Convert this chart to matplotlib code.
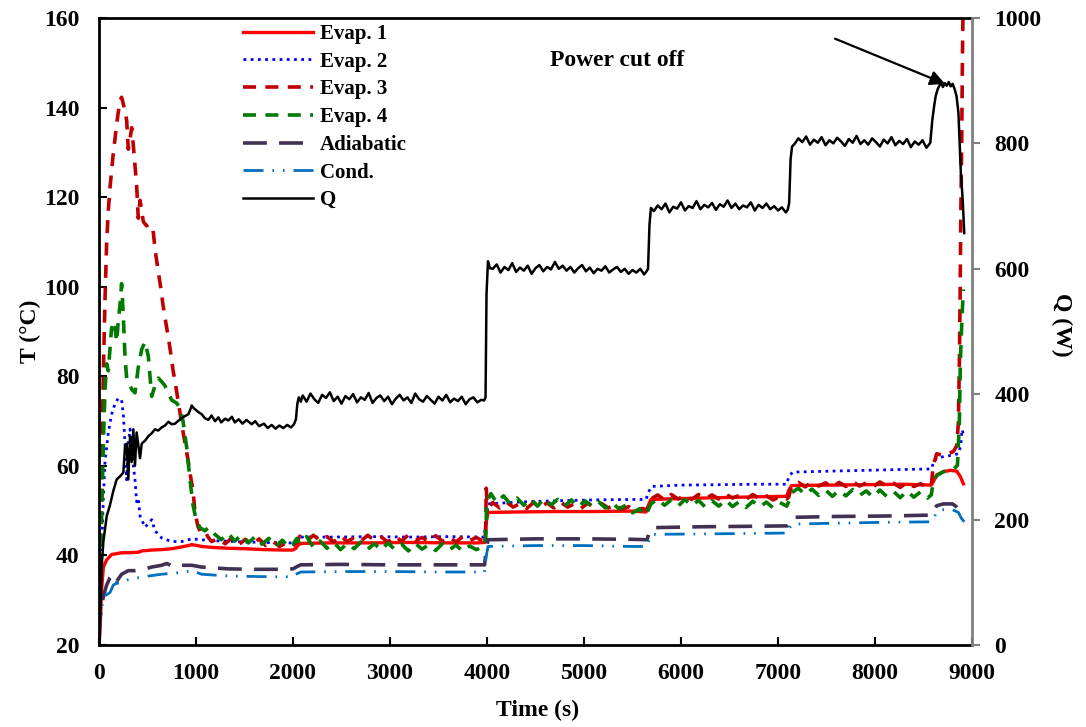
import matplotlib
matplotlib.use("Agg")
import matplotlib.pyplot as plt

plt.rcParams['font.family'] = ['Liberation Serif', 'DejaVu Serif']
plt.rcParams['font.weight'] = 'bold'

# ---------------- data ----------------
t_e1 = [0, 10, 27, 45, 79, 130, 233, 302, 405, 440, 543, 646, 750, 852, 921, 956, 990, 1060, 1162, 1333,
        1500, 1700, 1900, 2000, 2030, 2060, 2100, 2400, 2800, 3200, 3600, 3900, 3975, 3990, 4010, 4300,
        4700, 5100, 5500, 5640, 5660, 5690, 6000, 6400, 6800, 7090, 7110, 7140, 7500, 7900, 8300, 8580,
        8600, 8636, 8705, 8780, 8843, 8880, 8911]
T_e1 = [20, 22.8, 32.5, 37.4, 39.0, 40.2, 40.6, 40.6, 40.7, 41.0, 41.2, 41.3, 41.5, 41.9, 42.2, 42.4, 42.3,
        42.0, 41.8, 41.6, 41.5, 41.3, 41.2, 41.2, 41.6, 42.5, 42.7, 42.8, 42.8, 42.9, 42.8, 42.8, 42.9, 47.0,
        49.6, 49.7, 49.8, 49.8, 49.9, 49.7, 51.0, 52.5, 52.7, 52.9, 53.1, 53.2, 54.5, 55.6, 55.7, 55.8, 55.9,
        55.7, 56.4, 58.0, 58.7, 59.0, 58.8, 57.6, 56.0]

t_e2 = [0, 10, 27, 45, 62, 96, 130, 165, 199, 233, 251, 268, 285, 302, 320, 337, 354, 371, 388, 405, 423,
        440, 474, 509, 543, 577, 646, 749, 852, 956, 1059, 1162, 1300, 1500, 1700, 1900, 2000, 2030, 2070,
        2400, 2800, 3200, 3600, 3970, 3990, 4010, 4300, 4700, 5100, 5500, 5640, 5660, 5700, 6000, 6400,
        6800, 7090, 7110, 7150, 7500, 7900, 8300, 8580, 8608, 8636, 8750, 8860, 8884, 8897, 8911]
T_e2 = [20, 28.5, 40.7, 52.8, 61.0, 67.4, 71.5, 73.9, 75.1, 74.7, 71.5, 65.0, 56.9, 65.0, 68.2, 65.0, 60.1,
        56.9, 52.0, 52.8, 48.8, 48.0, 46.3, 47.1, 48.0, 45.5, 43.9, 43.1, 43.1, 43.7, 43.5, 43.3, 43.2, 43.0,
        42.9, 42.8, 42.8, 43.4, 44.1, 44.1, 44.2, 44.1, 44.2, 44.1, 47.5, 51.5, 51.9, 52.2, 52.4, 52.5, 52.5,
        54.0, 55.4, 55.7, 55.8, 55.9, 55.9, 57.5, 58.6, 58.8, 59.0, 59.2, 59.3, 61.0, 61.8, 62.2, 62.7, 64.5,
        68.1, 67.2]

t_e3 = [0, 10, 27, 45, 62, 79, 96, 113, 130, 148, 165, 182, 199, 216, 233, 251, 268, 285, 302, 320, 337,
        354, 371, 388, 405, 423, 440, 457, 491, 520, 557, 580, 608, 635, 660, 685, 711, 737, 763, 790, 814,
        840, 866, 892, 918, 945, 969, 990, 1020, 1050, 1093,
        1127, 1162, 1230, 1300, 1370, 1440, 1510, 1580, 1650, 1720, 1790, 1860, 1930, 2000, 2040, 2070,
        2140, 2210, 2280, 2350, 2420, 2490, 2560, 2630, 2700, 2770, 2840, 2910, 2980, 3050, 3120, 3190,
        3260, 3330, 3400, 3470, 3540, 3610, 3680, 3750, 3820, 3890, 3960, 3985, 3992, 4000, 4020, 4060,
        4130, 4200, 4270, 4340, 4410, 4480, 4550, 4620, 4690, 4760, 4830, 4900, 4970, 5040, 5110, 5180,
        5250, 5320, 5390, 5460, 5530, 5600, 5650, 5690, 5760, 5830, 5900, 5970, 6040, 6110, 6180, 6250,
        6320, 6390, 6460, 6530, 6600, 6670, 6740, 6810, 6880, 6950, 7020, 7090, 7110, 7140, 7210, 7280,
        7350, 7420, 7490, 7560, 7630, 7700, 7770, 7840, 7910, 7980, 8050, 8120, 8190, 8260, 8330, 8400,
        8470, 8540, 8580, 8600, 8636, 8705, 8808, 8843, 8860, 8870, 8877, 8884, 8894, 8901, 8911]
T_e3 = [22, 35, 57, 81, 97, 110, 117, 122, 126, 130, 133, 136.4, 139, 141.6, 142.3, 140.8, 139, 137.2, 130.7,
        133, 135.5, 131.5, 127, 122.6, 115.3, 119.3, 117, 114.5, 113.6, 114, 112.7, 108, 103.8, 100, 95.9,
        92.5, 89.2, 85.5, 81.4, 78, 74.7, 71, 67.6, 64.5, 61.3, 57.5, 54.6, 49.5, 46.5, 45.0, 45.3,
        44.0, 43.1, 43.8, 42.6, 43.9, 42.4, 43.6, 42.3, 43.7, 42.2, 43.2, 42.0, 42.8,
        42.1, 43.0, 44.3, 43.2, 44.5, 43.3, 44.2, 43.0, 44.4, 43.1, 44.0, 43.2, 44.5, 43.4, 44.1, 43.0, 44.3,
        43.2, 44.6, 43.3, 44.0, 43.1, 44.4, 43.2, 44.1, 43.0, 44.2, 43.3, 44.0, 43.2, 43.5, 55.0, 52.0, 50.8,
        51.8, 50.6, 51.9, 50.8, 51.6, 50.5, 51.8, 50.9, 51.7, 50.6, 51.9, 50.8, 51.5, 50.5, 51.7, 50.7, 51.6,
        50.6, 51.4, 50.3, 50.9, 49.8, 50.5, 50.2, 52.6, 53.5, 52.4, 53.6, 52.6, 53.4, 52.5, 53.6, 52.7, 53.5,
        52.6, 53.7, 52.8, 53.4, 52.5, 53.6, 52.7, 53.3, 52.4, 53.2, 52.6, 53.0, 55.5, 56.3, 55.3, 56.4, 55.5,
        56.2, 55.2, 56.3, 55.4, 56.5, 55.5, 56.2, 55.3, 56.4, 55.5, 56.1, 55.2, 56.3, 55.4, 56.0, 55.2, 55.6,
        60.0, 62.7, 62.3, 63.2, 64.5, 69.8, 83.3, 96.7, 114.7, 132.6, 150.5, 168]

t_e4 = [0, 10, 27, 45, 62, 79, 96, 113, 130, 148, 165, 182, 199, 216, 233, 251, 268, 285, 302, 337, 371,
        405, 440, 474, 509, 543, 577, 612, 646, 680, 715, 749, 801, 835, 866, 907, 938, 969, 1000, 1041, 1093,
        1130, 1196, 1260, 1330, 1400, 1470, 1540, 1610, 1680, 1750, 1820, 1890, 1960, 2000, 2040, 2070,
        2140, 2210, 2280, 2350, 2420, 2490, 2560, 2630, 2700, 2770, 2840, 2910, 2980, 3050, 3120, 3190,
        3260, 3330, 3400, 3470, 3540, 3610, 3680, 3750, 3820, 3890, 3960, 3985, 3995, 4010, 4040, 4100,
        4170, 4240, 4310, 4380, 4450, 4520, 4590, 4660, 4730, 4800, 4870, 4940, 5010, 5080, 5150, 5220,
        5290, 5360, 5430, 5500, 5570, 5620, 5650, 5690, 5760, 5830, 5900, 5970, 6040, 6110, 6180, 6250,
        6320, 6390, 6460, 6530, 6600, 6670, 6740, 6810, 6880, 6950, 7020, 7090, 7110, 7140, 7210, 7280,
        7350, 7420, 7490, 7560, 7630, 7700, 7770, 7840, 7910, 7980, 8050, 8120, 8190, 8260, 8330, 8400,
        8470, 8540, 8580, 8600, 8636, 8705, 8808, 8850, 8870, 8880, 8895, 8911]
T_e4 = [22, 32.5, 48.8, 65, 77.1, 82.8, 81.2, 86, 90.9, 89.3, 90.9, 87.7, 92.5, 95.8, 100.7, 93.4, 84.4, 79.6,
        78.8, 77.1, 76.3, 82, 86, 87.7, 84.4, 75.5, 77.9, 79.6, 78.8, 77.9, 76.3, 74.7, 74.0, 73.0, 70.0, 63.6,
        56.9, 51.3, 48.0, 46.2, 45.5, 46.3, 44.7, 43.5, 45.0, 43.2, 44.6, 42.8, 44.2, 42.5, 43.8, 42.0, 43.4,
        41.8, 42.5, 43.8, 42.6, 44.2, 41.8, 43.2, 41.6, 42.9, 41.3, 42.7, 41.5, 43.0, 41.4, 42.6, 41.2, 42.8,
        41.3, 42.5, 41.0, 42.7, 41.4, 42.4, 41.1, 42.6, 41.2, 42.3, 40.9, 42.1, 41.3, 42.0, 42.3, 50.5, 52.5,
        53.8, 51.8, 53.3, 51.5, 52.8, 51.2, 52.6, 51.0, 52.7, 51.3, 52.5, 51.0, 52.4, 50.8, 52.2, 50.9, 52.0,
        50.6, 51.8, 50.4, 51.2, 49.5, 50.4, 48.9, 49.6, 51.5, 52.6, 51.2, 52.4, 51.0, 52.5, 51.1, 52.3, 50.8,
        52.2, 51.0, 52.4, 50.9, 52.0, 50.7, 52.1, 50.8, 51.9, 50.6, 51.8, 51.0, 52.0, 54.0, 55.0, 53.6, 54.8,
        53.4, 54.6, 53.2, 54.5, 53.3, 54.7, 53.4, 54.4, 53.0, 54.6, 53.2, 54.3, 52.9, 54.4, 53.0, 54.2, 52.8,
        53.5, 56.4, 57.8, 58.7, 59.2, 60.1, 69.9, 83.3, 92.2, 99.4]

t_ad = [0, 10, 45, 79, 113, 148, 182, 233, 302, 371, 440, 543, 646, 697, 784, 852, 956, 1059, 1333, 1600,
        1900, 2000, 2040, 2080, 2500, 3000, 3500, 3975, 3990, 4010, 4500, 5000, 5500, 5650, 5670, 5700,
        6200, 6700, 7100, 7120, 7150, 7600, 8100, 8580, 8608, 8636, 8705, 8800, 8843, 8911]
T_ad = [22, 26, 30.9, 33.4, 35, 35.8, 34.2, 35.8, 36.6, 36.6, 36.8, 37.4, 37.8, 38.2, 37.4, 37.8, 37.8, 37.4,
        37.0, 36.9, 36.9, 37.0, 37.5, 37.9, 38.0, 37.9, 37.9, 37.9, 41.0, 43.5, 43.7, 43.7, 43.6, 43.5, 45.0,
        46.2, 46.4, 46.5, 46.6, 47.5, 48.5, 48.7, 48.8, 49.0, 50.2, 51.1, 51.5, 51.5, 50.8, 49.2]

t_cd = [0, 10, 27, 62, 113, 148, 182, 233, 302, 405, 509, 646, 852, 956, 1059, 1333, 1600, 1900, 2000, 2040,
        2080, 2500, 3000, 3500, 3975, 3990, 4010, 4500, 5000, 5500, 5650, 5680, 5700, 6200, 6700, 7100, 7120,
        7150, 7600, 8100, 8580, 8608, 8636, 8705, 8800, 8860, 8890, 8920]
T_cd = [20, 25, 28.5, 31, 31.7, 33.4, 33.8, 33.8, 34.6, 35.0, 35.4, 35.8, 36.2, 36.6, 35.8, 35.4, 35.3, 35.2,
        35.3, 35.9, 36.3, 36.4, 36.4, 36.3, 36.3, 39.5, 42.0, 42.2, 42.2, 42.0, 42.0, 44.0, 44.7, 44.8, 44.9,
        45.0, 46.2, 47.0, 47.2, 47.4, 47.5, 48.4, 49.7, 50.2, 50.2, 49.6, 48.3, 47.5]

t_q = [0, 15, 30, 45, 80, 113, 148, 182, 216, 251, 268, 285, 302, 320, 337, 354, 371, 388, 423, 440,
       475, 509, 545, 577, 610, 646, 680, 715, 750, 784, 820, 852, 885, 921, 940, 956, 975, 990, 1020, 1059,
       1090, 1127, 1160, 1196, 1230, 1260, 1300, 1333, 1370, 1400, 1440, 1480, 1520, 1574, 1610, 1650, 1700,
       1740, 1780, 1820, 1860, 1900, 1940, 1980, 2010, 2030, 2045, 2060, 2080,
       2100, 2140, 2180, 2220, 2260, 2300, 2340, 2380, 2420, 2460, 2500, 2540, 2580, 2620, 2660, 2700, 2740,
       2780, 2820, 2860, 2900, 2940, 2980, 3020, 3060, 3100, 3140, 3180, 3220, 3260, 3300, 3340, 3380, 3420,
       3460, 3500, 3540, 3580, 3620, 3660, 3700, 3740, 3780, 3820, 3860, 3900, 3940,
       3970, 3985, 3995, 4010, 4030,
       4060, 4100, 4140, 4180, 4220, 4260, 4300, 4340, 4380, 4420, 4460, 4500, 4540, 4580, 4620, 4660, 4700,
       4740, 4780, 4820, 4860, 4900, 4940, 4980, 5020, 5060, 5100, 5140, 5180, 5220, 5260, 5300, 5340, 5380,
       5420, 5460, 5500, 5540, 5580, 5620,
       5645, 5660, 5675, 5690,
       5720, 5760, 5800, 5840, 5880, 5920, 5960, 6000, 6040, 6080, 6120, 6160, 6200, 6240, 6280, 6320, 6360,
       6400, 6440, 6480, 6520, 6560, 6600, 6640, 6680, 6720, 6760, 6800, 6840, 6880, 6920, 6960, 7000, 7040,
       7080,
       7100, 7115, 7130, 7145,
       7170, 7210, 7250, 7290, 7330, 7370, 7410, 7450, 7490, 7530, 7570, 7610, 7650, 7690, 7730, 7770, 7810,
       7850, 7890, 7930, 7970, 8010, 8050, 8090, 8130, 8170, 8210, 8250, 8290, 8330, 8370, 8410, 8450, 8490,
       8530, 8570,
       8590, 8610, 8625, 8645, 8660, 8680, 8700, 8720, 8740, 8760, 8780, 8800, 8820, 8840, 8860, 8875, 8885,
       8905, 8920]
Q_w = [0, 60, 130, 165, 206, 223, 246, 264, 269, 275, 316, 321, 264, 333, 292, 344, 286, 339, 298, 321,
       326, 333, 338, 344, 342, 347, 350, 356, 352, 353, 358, 362, 365, 368, 375, 382, 378, 376, 372, 368,
       362, 359, 366, 357, 363, 355, 361, 358, 364, 355, 360, 353, 359, 352, 357, 349, 353,
       346, 351, 345, 350, 346, 351, 347, 352, 360, 385, 395, 388,
       398, 388, 401, 392, 386, 399, 394, 403, 389, 396, 385, 397, 392, 400, 387, 395, 391,
       402, 386, 394, 398, 389, 396, 384, 393, 399, 390, 395, 386, 401, 392, 388, 397, 391,
       385, 396, 390, 399, 387, 393, 389, 396, 384, 392, 395, 387, 391,
       390, 395, 560, 612, 601,
       600, 607, 594, 603, 598, 609, 595, 602, 597, 605, 592, 601, 606, 596, 603, 599, 611,
       600, 605, 597, 603, 594, 601, 606, 596, 602, 593, 600, 597, 604, 594, 599, 603, 595,
       600, 592, 598, 594, 600, 591,
       596, 600, 670, 697,
       692, 701, 695, 704, 690, 699, 696, 706, 693, 700, 697, 708, 695, 702, 698, 705, 694,
       703, 699, 709, 697, 704, 695, 701, 698, 706, 693, 702, 697, 704, 695, 700, 693, 698,
       690,
       694, 705, 775, 795,
       799, 808, 802, 811, 798, 806, 801, 810, 797, 805, 800, 809, 803, 796, 807, 801, 812,
       799, 805, 798, 808, 802, 795, 806, 800, 810, 797, 804, 799, 807, 794, 803, 798, 805,
       793, 801,
       836, 860, 875, 886, 891, 897, 890, 896, 892, 898, 891, 895, 887, 876, 849, 790, 753,
       708, 657]

series_labels = ['Evap. 1', 'Evap. 2', 'Evap. 3', 'Evap. 4', 'Adiabatic', 'Cond.', 'Q']
x_ticks = [0, 1000, 2000, 3000, 4000, 5000, 6000, 7000, 8000, 9000]
t_ticks = [20, 40, 60, 80, 100, 120, 140, 160]
q_ticks = [0, 200, 400, 600, 800, 1000]

# ---------------- figure ----------------
fig = plt.figure(figsize=(10.86, 7.27), dpi=100)
ax = fig.add_axes([99 / 1086, 1 - 645 / 727, 873 / 1086, 627 / 727])
ax2 = ax.twinx()

l1, = ax.plot(t_e1, T_e1, color='#FF0000', lw=2.4, solid_joinstyle='round')
l2, = ax.plot(t_e2, T_e2, color='#0000FF', lw=2.0, linestyle=(0, (1, 1.6)))
l3, = ax.plot(t_e3, T_e3, color='#C00000', lw=2.6, linestyle=(0, (3.6, 2.6)))
l4, = ax.plot(t_e4, T_e4, color='#007A00', lw=2.6, linestyle=(0, (3.6, 2.6)))
l5, = ax.plot(t_ad, T_ad, color='#403152', lw=2.6, linestyle=(0, (6.6, 3.4)))
l6, = ax.plot(t_cd, T_cd, color='#0070C0', lw=2.0, linestyle=(0, (7.2, 3.2, 0.6, 3.2, 0.6, 3.2)))
l7, = ax2.plot(t_q, Q_w, color='black', lw=1.8)

ax.set_xlim(0, 9000)
ax.set_ylim(20, 160)
ax2.set_ylim(0, 1000)
ax.set_xticks(x_ticks)
ax.set_yticks(t_ticks)
ax2.set_yticks(q_ticks)

fs = 17
ax.tick_params(axis='both', direction='in', length=6, width=1.5, labelsize=fs, pad=13, colors='black')
ax.tick_params(axis='y', pad=14)
ax2.tick_params(axis='y', direction='out', length=6, width=1.5, labelsize=fs, pad=10,
                color='#808080', labelcolor='black')
for lab in ax.get_xticklabels() + ax.get_yticklabels() + ax2.get_yticklabels():
    lab.set_fontweight('bold')

for s in ['left', 'bottom', 'top']:
    ax.spines[s].set_linewidth(2.0)
    ax.spines[s].set_color('black')
for s in ['left', 'bottom', 'top']:
    ax2.spines[s].set_visible(False)
ax.spines['right'].set_visible(False)
ax2.spines['right'].set_color('#808080')
ax2.spines['right'].set_linewidth(2.0)

ax.set_xlabel('Time (s)', fontsize=fs, fontweight='bold')
ax.set_ylabel('T (°C)', fontsize=fs, fontweight='bold')
ax2.set_ylabel('Q (W)', fontsize=fs, fontweight='bold', rotation=270)
ax.xaxis.label.set_va('center')
ax.yaxis.label.set_va('center')
ax2.yaxis.label.set_va('center')
ax.xaxis.set_label_coords(0.502, -0.105)
ax.yaxis.set_label_coords(-0.079, 0.5)
ax2.yaxis.set_label_coords(1.103, 0.51)

leg = ax2.legend([l1, l2, l3, l4, l5, l6, l7], series_labels, loc='upper left',
                 bbox_to_anchor=((243 - 99) / 873, (645 - 24) / 627), frameon=False,
                 prop={'family': 'Liberation Serif', 'weight': 'bold', 'size': 15},
                 handlelength=3.37, handletextpad=0.34, labelspacing=0.37, borderpad=0,
                 borderaxespad=0)

ax2.annotate('', xy=(8722, 895), xytext=(7588, 967),
             arrowprops=dict(arrowstyle='-|>', color='black', lw=1.6, mutation_scale=22,
                             shrinkA=0, shrinkB=0))
ax2.text(5340, 933, 'Power cut off', fontsize=fs, fontweight='bold', ha='center', va='center')

fig.savefig('out.png', dpi=100)
